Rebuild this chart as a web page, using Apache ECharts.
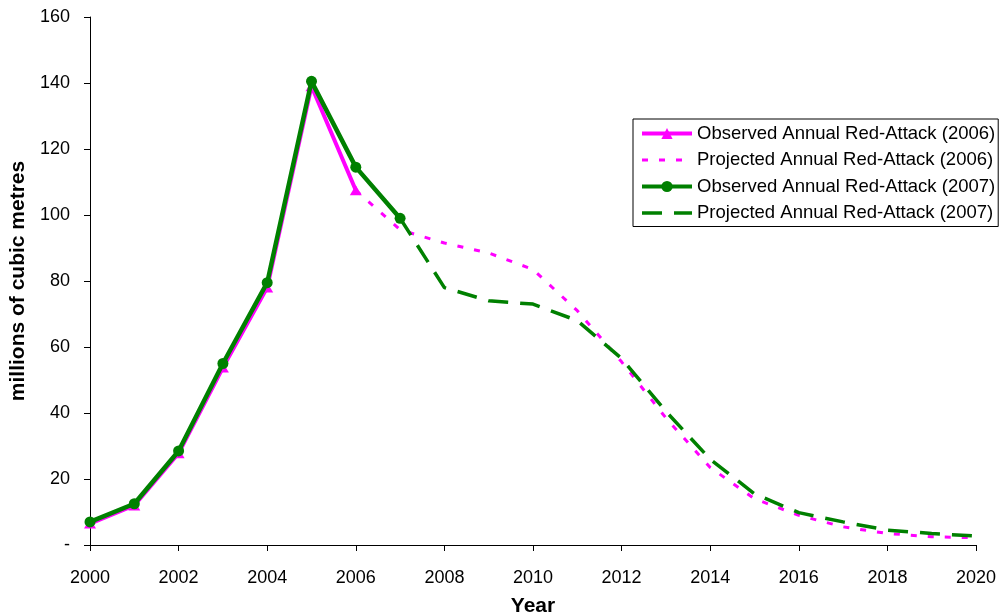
<!DOCTYPE html>
<html>
<head>
<meta charset="utf-8">
<script src="https://cdn.jsdelivr.net/npm/echarts@6/dist/echarts.min.js"></script>
<style>
    html, body { margin: 0; padding: 0; background: #fff; }
    #chart { width: 1000px; height: 616px; }
</style>
</head>
<body>
<div id="chart"></div>
<script>
// observed series start in 2000, projections start at the last observed year
const obsYears2006 = [2000, 2001, 2002, 2003, 2004, 2005, 2006];
const obs2006 = [6.5, 12, 27.8, 53.8, 78, 139, 107.5];
const obsYears2007 = [2000, 2001, 2002, 2003, 2004, 2005, 2006, 2007];
const obs2007 = [7, 12.5, 28.5, 55, 79.5, 140.5, 114.5, 99];
const projYears2006 = [2006, 2007, 2008, 2009, 2010, 2011, 2012, 2013, 2014, 2015, 2016, 2017, 2018, 2019, 2020];
const proj2006 = [107.5, 95.5, 91.5, 88.5, 83.5, 71, 55.5, 38.5, 23.5, 14, 9, 5.5, 3.5, 2.5, 2.2];
const projYears2007 = [2007, 2008, 2009, 2010, 2011, 2012, 2013, 2014, 2015, 2016, 2017, 2018, 2019, 2020];
const proj2007 = [99, 78, 74, 73, 68, 56.5, 40.5, 26, 15.5, 9.8, 7, 4.5, 3.5, 2.7];

const names = [
    'Observed Annual Red-Attack (2006)',
    'Projected Annual Red-Attack (2006)',
    'Observed Annual Red-Attack (2007)',
    'Projected Annual Red-Attack (2007)'
];

const FONT = '"Liberation Sans", Arial, sans-serif';
const MAGENTA = '#ff00ff';
const GREEN = '#008000';

function pairs(xs, ys) {
    let out = [];
    for (let i = 0; i < xs.length; i++) {
        out.push([xs[i], ys[i]]);
    }
    return out;
}

let chart = echarts.init(document.getElementById('chart'));
let option = {
    backgroundColor: '#fff',
    animation: false,
    grid: {
        left: 90,
        right: 24,
        top: 17,
        bottom: 71,
        containLabel: false,
        outerBoundsMode: 'none'
    },
    legend: {
        orient: 'vertical',
        left: 633,
        top: 119,
        padding: [5, 3, 4, 7],
        itemGap: 7.5,
        itemWidth: 50,
        itemHeight: 14,
        borderColor: '#000',
        borderWidth: 1,
        backgroundColor: '#fff',
        textStyle: { fontFamily: FONT, fontSize: 18.5, color: '#000' },
        data: [
            { name: names[0], lineStyle: { width: 4 } },
            { name: names[1], lineStyle: { width: 3 }, itemStyle: { opacity: 0 } },
            { name: names[2], lineStyle: { width: 4 } },
            { name: names[3], lineStyle: { width: 3.5 }, itemStyle: { opacity: 0 } }
        ]
    },
    xAxis: {
        type: 'value',
        min: 2000,
        max: 2020,
        interval: 2,
        name: 'Year',
        nameLocation: 'middle',
        nameGap: 51,
        nameTextStyle: { fontFamily: FONT, fontSize: 21, fontWeight: 'bold', color: '#000' },
        axisLine: { lineStyle: { color: '#000', width: 1 } },
        axisTick: { show: true, length: 6, lineStyle: { color: '#000' } },
        axisLabel: {
            fontFamily: FONT, fontSize: 18, color: '#000', margin: 24,
            formatter: function (v) { return String(v); }
        },
        splitLine: { show: false }
    },
    yAxis: {
        type: 'value',
        min: 0,
        max: 160,
        interval: 20,
        name: 'millions of cubic metres',
        nameLocation: 'middle',
        nameGap: 61,
        nameTextStyle: { fontFamily: FONT, fontSize: 21, fontWeight: 'bold', color: '#000' },
        axisLine: { show: true, lineStyle: { color: '#000', width: 1 } },
        axisTick: { show: true, length: 6, lineStyle: { color: '#000' } },
        axisLabel: {
            fontFamily: FONT, fontSize: 18, color: '#000', margin: 20,
            formatter: function (v) { return v === 0 ? '-' : v; }
        },
        splitLine: { show: false }
    },
    series: [
        {
            name: names[0],
            type: 'line',
            data: pairs(obsYears2006, obs2006),
            symbol: 'triangle',
            symbolSize: [12, 10],
            color: MAGENTA,
            lineStyle: { color: MAGENTA, width: 4 },
            itemStyle: { color: MAGENTA },
            z: 3
        },
        {
            name: names[1],
            type: 'line',
            data: pairs(projYears2006, proj2006),
            symbol: 'none',
            color: MAGENTA,
            lineStyle: { color: MAGENTA, width: 3, type: [6, 11] },
            z: 2
        },
        {
            name: names[2],
            type: 'line',
            data: pairs(obsYears2007, obs2007),
            symbol: 'circle',
            symbolSize: 11,
            color: GREEN,
            lineStyle: { color: GREEN, width: 4.5 },
            itemStyle: { color: GREEN },
            z: 4
        },
        {
            name: names[3],
            type: 'line',
            data: pairs(projYears2007, proj2007),
            symbol: 'none',
            color: GREEN,
            lineStyle: { color: GREEN, width: 3.5, type: [20, 12] },
            z: 2
        }
    ]
};
chart.setOption(option);
</script>
</body>
</html>
